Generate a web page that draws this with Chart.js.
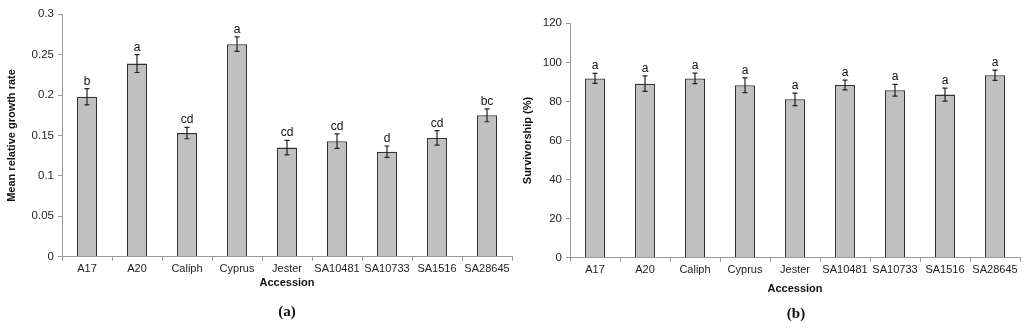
<!DOCTYPE html>
<html>
<head>
<meta charset="utf-8">
<script src="https://cdn.jsdelivr.net/npm/chart.js@4.4.1/dist/chart.umd.min.js"></script>
<style>
  html, body { margin: 0; padding: 0; background: #fff; width: 1024px; height: 329px; overflow: hidden; }
  #wrap { position: relative; width: 1024px; height: 329px; }
  canvas { position: absolute; top: 0; }
  .lab { position: absolute; font-family: "Liberation Serif", "DejaVu Serif", serif; font-weight: bold; font-size: 15px; color: #111; transform: translate(-50%, -50%); white-space: nowrap; }
</style>
</head>
<body>
<div id="wrap">
  <canvas id="cA" width="516" height="329" style="left:0px"></canvas>
  <canvas id="cB" width="512" height="329" style="left:512px"></canvas>
  <div class="lab" style="left:287px; top:311px;">(a)</div>
  <div class="lab" style="left:796px; top:313px;">(b)</div>
</div>
<script>
// ---- Data ----
const categories = ['A17', 'A20', 'Caliph', 'Cyprus', 'Jester', 'SA10481', 'SA10733', 'SA1516', 'SA28645'];

const growthRate = [0.198, 0.239, 0.153, 0.263, 0.135, 0.143, 0.130, 0.147, 0.175];
const growthErr  = [0.010, 0.011, 0.007, 0.009, 0.009, 0.009, 0.007, 0.009, 0.008];
const growthLetters = ['b', 'a', 'cd', 'a', 'cd', 'cd', 'd', 'cd', 'bc'];
const growthTicks = ['0', '0.05', '0.1', '0.15', '0.2', '0.25', '0.3'];

const survivorship = [91.8, 89.1, 91.8, 88.3, 81.1, 88.4, 85.7, 83.5, 93.4];
const survivorshipErr = [2.6, 4.0, 2.7, 3.8, 3.2, 2.5, 3.0, 3.3, 2.6];
const survivorshipLetters = ['a', 'a', 'a', 'a', 'a', 'a', 'a', 'a', 'a'];
const survivorshipTicks = ['0', '20', '40', '60', '80', '100', '120'];

// ---- Plugin: error bars and significance letters ----
const errorBarPlugin = {
  id: 'errorBars',
  afterDatasetsDraw(chart, args, opts) {
    const ctx = chart.ctx;
    const yScale = chart.scales.y;
    const meta = chart.getDatasetMeta(0);
    const vals = chart.data.datasets[0].data;
    ctx.save();
    ctx.strokeStyle = '#222';
    ctx.lineWidth = 1.2;
    meta.data.forEach((bar, i) => {
      const x = bar.x;
      const v = vals[i];
      const e = opts.errors[i];
      const yTop = yScale.getPixelForValue(v + e);
      const yBot = yScale.getPixelForValue(v - e);
      ctx.beginPath();
      ctx.moveTo(x, yTop); ctx.lineTo(x, yBot);
      ctx.moveTo(x - 2.5, yTop); ctx.lineTo(x + 2.5, yTop);
      ctx.moveTo(x - 2.5, yBot); ctx.lineTo(x + 2.5, yBot);
      ctx.stroke();
      ctx.fillStyle = '#111';
      ctx.font = '12px "Liberation Sans", Arial, sans-serif';
      ctx.textAlign = 'center';
      ctx.textBaseline = 'alphabetic';
      ctx.fillText(opts.letters[i], x, yTop - 4);
    });
    ctx.restore();
  }
};

function makeChart(id, values, errors, letters, yMax, step, tickLabels, yTitle, cfg) {
  return new Chart(document.getElementById(id), {
    type: 'bar',
    data: {
      labels: categories,
      datasets: [{
        data: values,
        backgroundColor: '#c0c0c0',
        borderColor: '#333333',
        borderWidth: 1.3,
        barPercentage: 0.4,
        categoryPercentage: 1.0
      }]
    },
    options: {
      responsive: false,
      animation: false,
      devicePixelRatio: 1,
      layout: { padding: { top: cfg.top, right: 4, left: 0, bottom: 0 } },
      plugins: {
        legend: { display: false },
        tooltip: { enabled: false },
        errorBars: { errors: errors, letters: letters }
      },
      scales: {
        x: {
          offset: true,
          grid: { display: true, drawOnChartArea: false, drawTicks: true, tickLength: 4, color: '#999', offset: true },
          border: { display: true, color: '#999', width: 1 },
          ticks: { color: '#222', font: { family: '"Liberation Sans", Arial, sans-serif', size: 11 }, padding: 2, maxRotation: 0, autoSkip: false },
          title: { display: true, text: 'Accession', color: '#111', font: { family: '"Liberation Sans", Arial, sans-serif', size: 11, weight: 'bold' }, padding: { top: 0, bottom: cfg.xTitlePad } },
          afterFit(scale) { scale.height = cfg.xHeight; }
        },
        y: {
          min: 0, max: yMax,
          grid: { display: true, drawOnChartArea: false, drawTicks: true, tickLength: 4, color: '#999' },
          border: { display: true, color: '#999', width: 1 },
          ticks: {
            stepSize: step,
            color: '#222',
            font: { family: '"Liberation Sans", Arial, sans-serif', size: 11.5 },
            padding: 4,
            callback: (v, i) => tickLabels[i]
          },
          title: { display: true, text: yTitle, color: '#111', font: { family: '"Liberation Sans", Arial, sans-serif', size: 11, weight: 'bold' }, padding: { top: cfg.yTitlePad, bottom: 0 } },
          afterFit(scale) { scale.width = cfg.yWidth; }
        }
      }
    },
    plugins: [errorBarPlugin]
  });
}

makeChart('cA', growthRate, growthErr, growthLetters, 0.3, 0.05, growthTicks, 'Mean relative growth rate',
  { top: 14.3, xHeight: 72.3, xTitlePad: 39.4, yWidth: 62, yTitlePad: 5.4 });
makeChart('cB', survivorship, survivorshipErr, survivorshipLetters, 120, 20, survivorshipTicks, 'Survivorship (%)',
  { top: 23.3, xHeight: 71.3, xTitlePad: 33, yWidth: 58, yTitlePad: 9.4 });
</script>
</body>
</html>
